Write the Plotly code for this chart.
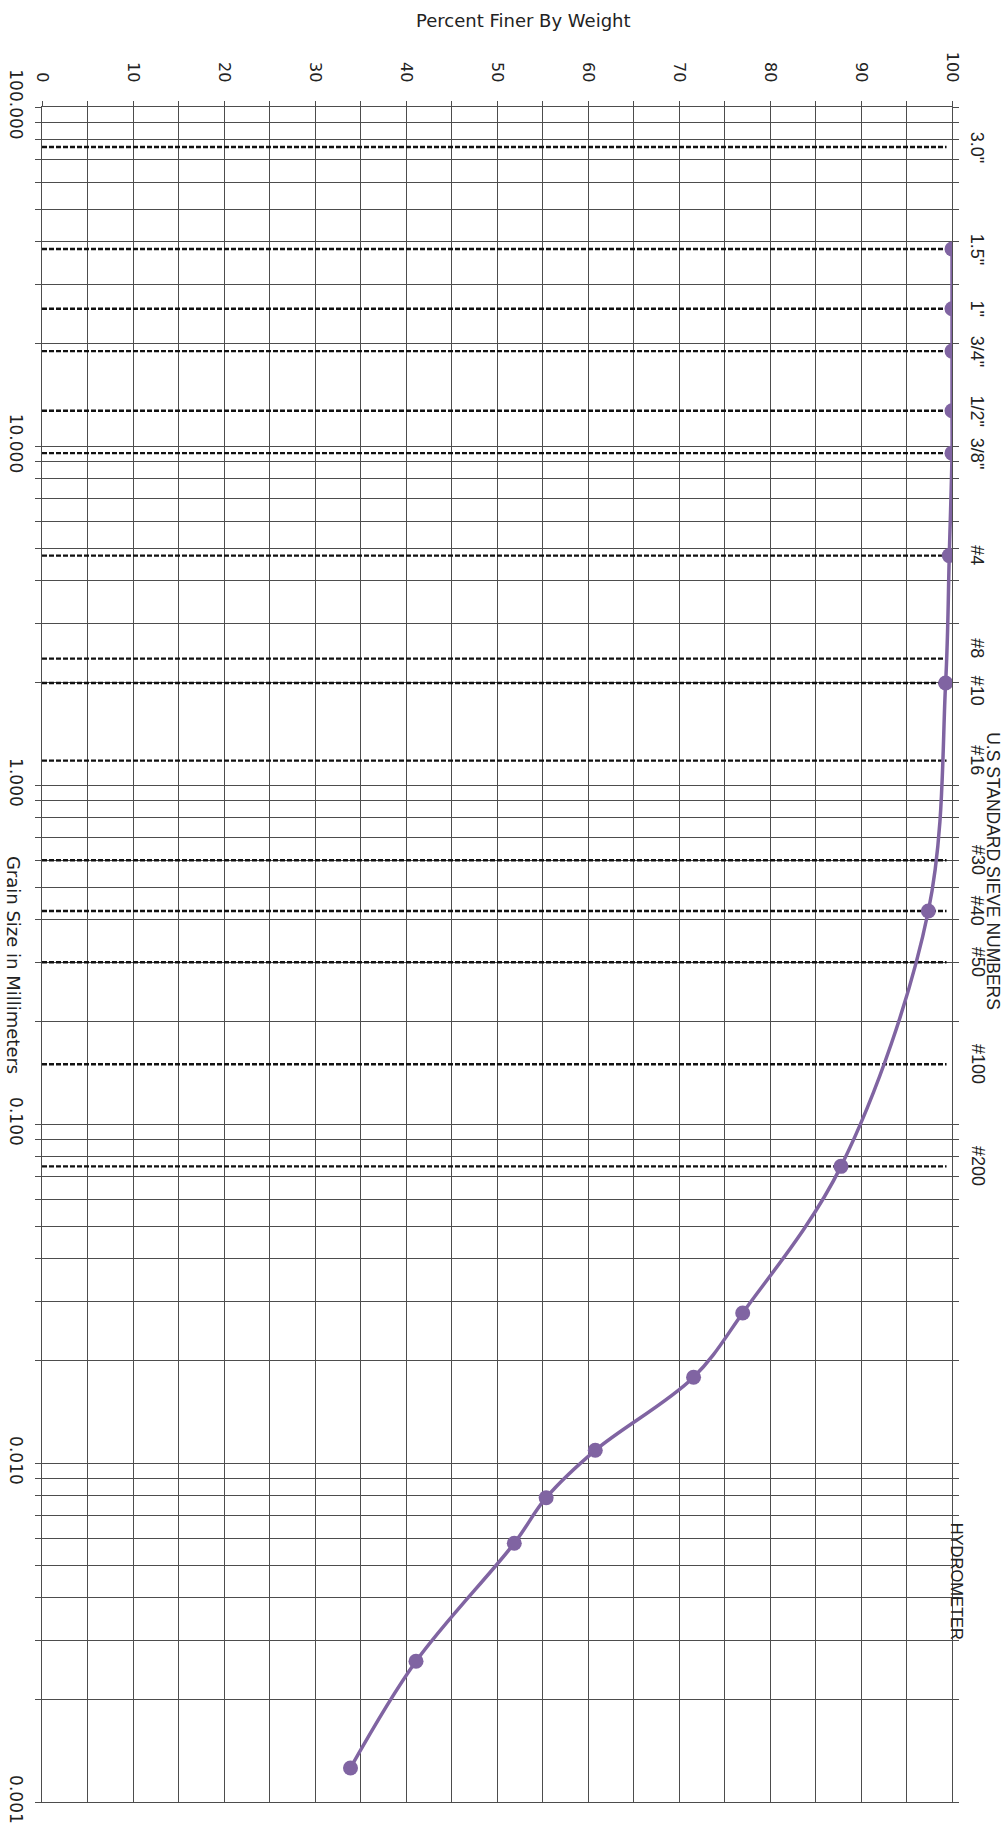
import math
import plotly.graph_objects as go

# ---------------- data ----------------
pct_ticks = list(range(0, 101, 5))
pct_labels = [str(v) if v % 10 == 0 else "" for v in pct_ticks]

size_major = [100, 10, 1, 0.1, 0.01, 0.001]
size_major_labels = ["100.000", "10.000", "1.000", "0.100", "0.010", "0.001"]

sieve_labels = ['3.0"', '1.5"', '1"', '3/4"', '1/2"', '3/8"', "#4", "#8", "#10",
                "#16", "#30", "#40", "#50", "#100", "#200"]
sieve_sizes_mm = [76.2, 38.1, 25.4, 19.05, 12.7, 9.525, 4.75, 2.36, 2.0,
                  1.18, 0.6, 0.425, 0.3, 0.15, 0.075]

test_sizes_mm = [38.1, 25.4, 19.05, 12.7, 9.525, 4.75, 2.0, 0.425, 0.075,
                 0.0277, 0.0179, 0.0109, 0.0079, 0.0058, 0.0026, 0.00126]
test_percent_finer = [100, 100, 100, 100, 100, 99.7, 99.3, 97.4, 87.8,
                      77.0, 71.6, 60.8, 55.4, 51.9, 41.1, 33.9]

# ---------------- grid values ----------------
size_grid = [m * 10 ** e for e in range(-3, 2) for m in range(1, 10)] + [100]
size_grid_text = []
for v in size_grid:
    lab = ""
    for mv, ml in zip(size_major, size_major_labels):
        if math.isclose(v, mv, rel_tol=1e-9):
            lab = ml
    size_grid_text.append(lab)

# ---------------- figure ----------------
fig = go.Figure()

# dashed sieve lines
dx, dy = [], []
for s in sieve_sizes_mm:
    dx += [0, 99.4, None]
    dy += [s, s, None]
fig.add_trace(go.Scatter(x=dx, y=dy, mode="lines",
                         line=dict(color="#111111", width=2.4, dash="5px,2px"),
                         hoverinfo="skip", showlegend=False))

purple = "#8064A2"
fig.add_trace(go.Scatter(x=test_percent_finer, y=test_sizes_mm, mode="lines+markers",
                         line=dict(color=purple, width=3.5, shape="spline", smoothing=1),
                         marker=dict(color=purple, size=15),
                         showlegend=False))

gridc = "#4d4d4d"
fig.update_xaxes(range=[0, 100], side="top", tickvals=pct_ticks, ticktext=pct_labels,
                 tickangle=90, tickfont=dict(family="DejaVu Sans", size=16, color="#222"),
                 showgrid=True, gridcolor=gridc, gridwidth=1.1, zeroline=False,
                 showline=True, linecolor=gridc, linewidth=1.1, mirror=True,
                 ticks="outside", ticklen=5, tickcolor=gridc, ticklabelstandoff=13,
                 automargin=False)
fig.update_yaxes(type="log", range=[-3, 2], tickvals=size_grid, ticktext=size_grid_text,
                 tickangle=90, tickfont=dict(family="DejaVu Sans", size=17, color="#222"),
                 showgrid=True, gridcolor=gridc, gridwidth=1.1, zeroline=False,
                 showline=True, linecolor=gridc, linewidth=1.1, mirror="ticks",
                 ticks="outside", ticklen=6, tickcolor=gridc, ticklabelstandoff=5,
                 automargin=False)

ann = []
yshift = {"#8": 10, "#10": -8}
for lab, s in zip(sieve_labels, sieve_sizes_mm):
    ann.append(dict(x=1.0278, xref="paper", y=math.log10(s), yref="y", text=lab,
                    textangle=90, showarrow=False, xanchor="center", yanchor="middle",
                    yshift=yshift.get(lab, 0),
                    font=dict(family="Liberation Sans", size=18, color="#222")))
ann.append(dict(x=1.0443, xref="paper", y=0.549, yref="paper",
                text="U.S STANDARD SIEVE NUMBERS", textangle=90, showarrow=False,
                xanchor="center", yanchor="middle",
                font=dict(family="Liberation Sans", size=17.5, color="#222")))
ann.append(dict(x=1.0058, xref="paper", y=0.1304, yref="paper",
                text="HYDROMETER", textangle=90, showarrow=False,
                xanchor="center", yanchor="middle",
                font=dict(family="Liberation Sans", size=16.5, color="#222")))
ann.append(dict(x=0.529, xref="paper", y=1.0511, yref="paper",
                text="Percent Finer By Weight", showarrow=False,
                xanchor="center", yanchor="middle",
                font=dict(family="DejaVu Sans", size=18, color="#222")))
ann.append(dict(x=-0.031, xref="paper", y=0.494, yref="paper",
                text="Grain Size in Millimeters", textangle=90, showarrow=False,
                xanchor="center", yanchor="middle",
                font=dict(family="DejaVu Sans", size=18, color="#222")))

fig.update_layout(width=1008, height=1828,
                  margin=dict(l=42, r=56, t=107, b=26),
                  paper_bgcolor="white", plot_bgcolor="white",
                  annotations=ann, showlegend=False)

fig.write_html("out.html",
               config={"displayModeBar": False},
               post_script="document.body.style.margin='0';document.body.style.overflow='hidden';")
